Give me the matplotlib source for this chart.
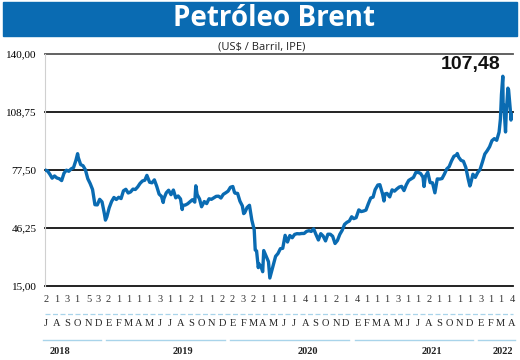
import numpy as np
import pandas as pd
import matplotlib
matplotlib.use('Agg')
import matplotlib.pyplot as plt
import matplotlib.dates as mdates
import matplotlib.transforms as mtransforms
from matplotlib.patches import Rectangle

# Brent, US$ per barrel (roughly weekly)
dates = [
    '2018-07-02', '2018-07-06', '2018-07-13', '2018-07-20', '2018-07-27', '2018-08-03', '2018-08-10',
    '2018-08-17', '2018-08-24', '2018-08-31', '2018-09-07', '2018-09-14', '2018-09-21', '2018-09-28',
    '2018-10-03', '2018-10-05', '2018-10-12', '2018-10-19', '2018-10-26', '2018-11-02', '2018-11-09',
    '2018-11-16', '2018-11-23', '2018-11-30', '2018-12-07', '2018-12-14', '2018-12-21', '2018-12-24',
    '2018-12-28',
    '2019-01-04', '2019-01-11', '2019-01-18', '2019-01-25', '2019-02-01', '2019-02-08', '2019-02-15',
    '2019-02-22', '2019-03-01', '2019-03-08', '2019-03-15', '2019-03-22', '2019-03-29', '2019-04-05',
    '2019-04-12', '2019-04-19', '2019-04-25', '2019-05-03', '2019-05-10', '2019-05-17', '2019-05-24',
    '2019-05-31', '2019-06-07', '2019-06-12', '2019-06-14', '2019-06-21', '2019-06-28', '2019-07-05',
    '2019-07-12', '2019-07-19', '2019-07-26', '2019-08-02', '2019-08-07', '2019-08-09', '2019-08-16',
    '2019-08-23', '2019-08-30', '2019-09-06', '2019-09-13', '2019-09-16', '2019-09-20', '2019-09-27',
    '2019-10-03', '2019-10-11', '2019-10-18', '2019-10-25', '2019-11-01', '2019-11-08', '2019-11-15',
    '2019-11-22', '2019-11-29', '2019-12-06', '2019-12-13', '2019-12-20', '2019-12-27',
    '2020-01-03', '2020-01-08', '2020-01-10', '2020-01-17', '2020-01-24', '2020-01-31', '2020-02-04',
    '2020-02-07', '2020-02-14', '2020-02-21', '2020-02-28', '2020-03-06', '2020-03-09', '2020-03-13',
    '2020-03-18', '2020-03-20', '2020-03-27', '2020-03-31', '2020-04-03', '2020-04-09', '2020-04-17',
    '2020-04-21', '2020-04-24', '2020-05-01', '2020-05-08', '2020-05-15', '2020-05-22', '2020-05-29',
    '2020-06-05', '2020-06-12', '2020-06-19', '2020-06-26', '2020-07-03', '2020-07-10', '2020-07-17',
    '2020-07-24', '2020-07-31', '2020-08-07', '2020-08-14', '2020-08-21', '2020-08-28', '2020-09-04',
    '2020-09-11', '2020-09-18', '2020-09-25', '2020-10-02', '2020-10-09', '2020-10-16', '2020-10-23',
    '2020-10-30', '2020-11-06', '2020-11-13', '2020-11-20', '2020-11-27', '2020-12-04', '2020-12-11',
    '2020-12-18', '2020-12-24', '2020-12-31',
    '2021-01-08', '2021-01-15', '2021-01-22', '2021-01-29', '2021-02-05', '2021-02-12', '2021-02-19',
    '2021-02-25', '2021-03-05', '2021-03-11', '2021-03-19', '2021-03-23', '2021-03-26', '2021-04-01',
    '2021-04-09', '2021-04-16', '2021-04-23', '2021-04-30', '2021-05-07', '2021-05-14', '2021-05-21',
    '2021-05-28', '2021-06-04', '2021-06-11', '2021-06-18', '2021-06-25', '2021-07-02', '2021-07-09',
    '2021-07-16', '2021-07-19', '2021-07-23', '2021-07-30', '2021-08-06', '2021-08-13', '2021-08-20',
    '2021-08-27', '2021-09-03', '2021-09-10', '2021-09-17', '2021-09-24', '2021-10-01', '2021-10-08',
    '2021-10-15', '2021-10-22', '2021-10-25', '2021-10-29', '2021-11-05', '2021-11-12', '2021-11-19',
    '2021-11-26', '2021-12-01', '2021-12-03', '2021-12-10', '2021-12-17', '2021-12-24', '2021-12-31',
    '2022-01-07', '2022-01-14', '2022-01-21', '2022-01-28', '2022-02-04', '2022-02-11', '2022-02-18',
    '2022-02-25', '2022-03-01', '2022-03-04', '2022-03-08', '2022-03-09', '2022-03-11', '2022-03-16',
    '2022-03-18', '2022-03-23', '2022-03-25', '2022-03-31', '2022-04-01', '2022-04-04',
]
prices = [
    77.3, 77.1, 75.3, 73.1, 74.3, 73.2, 72.8,
    71.8, 75.8, 77.4, 76.8, 78.1, 78.8, 82.7,
    86.3, 84.2, 80.4, 79.8, 77.6, 72.8, 70.2,
    67.0, 58.8, 58.7, 61.7, 60.3, 53.8, 50.5,
    52.2,
    57.1, 60.5, 62.7, 61.6, 62.8, 62.1, 66.3,
    67.1, 65.1, 65.7, 67.2, 67.0, 68.4, 70.3,
    71.6, 72.0, 74.6, 70.9, 70.6, 72.2, 68.7,
    64.5, 63.3, 60.0, 62.0, 65.2, 66.6, 64.2,
    66.7, 62.5, 63.5, 61.9, 56.2, 58.5, 58.6,
    59.3, 60.4, 61.5, 60.2, 69.0, 64.3, 61.9,
    57.7, 60.5, 59.4, 62.0, 61.7, 62.5, 63.3,
    63.4, 62.4, 64.4, 65.2, 66.1, 68.2,
    68.6, 65.4, 65.0, 64.9, 60.7, 58.2, 54.0,
    54.5, 57.3, 58.5, 50.5, 45.3, 34.4, 33.9,
    24.9, 27.0, 24.9, 22.7, 34.1, 31.5, 28.1,
    19.3, 21.4, 26.4, 31.0, 32.5, 35.1, 35.3,
    42.3, 38.7, 42.2, 41.0, 42.8, 43.2, 43.1,
    43.3, 43.3, 44.4, 44.8, 44.4, 45.8, 42.7,
    39.8, 43.2, 41.9, 39.3, 42.9, 42.9, 41.8,
    37.9, 39.5, 42.8, 45.0, 48.2, 49.3, 50.0,
    52.3, 51.3, 51.8,
    56.0, 55.1, 55.4, 55.9, 59.3, 62.4, 62.9,
    66.9, 69.4, 69.6, 64.5, 60.8, 64.6, 64.9,
    63.0, 66.8, 66.1, 67.3, 68.3, 68.7, 66.4,
    69.6, 71.9, 72.7, 73.5, 76.2, 76.2, 75.6,
    73.6, 68.6, 74.1, 76.3, 70.7, 70.6, 65.2,
    72.7, 72.6, 72.9, 75.3, 78.1, 79.3, 82.4,
    84.9, 85.5, 86.4, 84.4, 82.7, 82.2, 78.9,
    72.7, 68.9, 69.9, 75.2, 73.5, 76.1, 77.8,
    81.8, 86.1, 87.9, 90.0, 93.3, 94.4, 93.5,
    97.9, 105.0, 118.1, 128.0, 111.1, 112.7, 98.0,
    107.9, 121.6, 120.7, 107.9, 104.4, 107.48,
]

yticks = [15.00, 46.25, 77.50, 108.75, 140.00]
ytick_labels = ['15,00', '46,25', '77,50', '108,75', '140,00']

# first trading day of each month shown under the axis
tick_years = [2018] * 6 + [2019] * 12 + [2020] * 12 + [2021] * 12 + [2022] * 4
tick_months = list(range(7, 13)) + list(range(1, 13)) * 3 + list(range(1, 5))
tick_days = [2, 1, 3, 1, 5, 3,
             2, 1, 1, 1, 1, 3, 1, 1, 2, 1, 1, 2,
             2, 3, 2, 1, 1, 1, 1, 4, 1, 1, 2, 1,
             4, 1, 1, 1, 3, 1, 1, 2, 1, 1, 1, 1,
             3, 1, 1, 4]
month_letters = ['E', 'F', 'M', 'A', 'M', 'J', 'J', 'A', 'S', 'O', 'N', 'D']
year_labels = ['2018', '2019', '2020', '2021', '2022']
year_label_dates = ['2018-08-12', '2019-08-10', '2020-08-10', '2021-08-10', '2022-03-08']

blue = '#0a6bb2'
W, H = 520, 360

fig = plt.figure(figsize=(5.2, 3.6), dpi=100)
ax = fig.add_axes([45 / W, 1 - 286 / H, 468 / W, 232 / H])

x = pd.to_datetime(dates)
ax.plot(x, prices, color=blue, lw=2.4, solid_joinstyle='round', zorder=3)

for v in yticks:
    ax.axhline(v, color='#555555' if v == 140 else '#111111', lw=1.3, clip_on=False, zorder=2)

ax.set_ylim(15, 140)
ax.set_xlim(pd.Timestamp('2018-06-29'), pd.Timestamp('2022-04-07'))
ax.set_yticks(yticks)
ax.set_yticklabels(ytick_labels, family='Liberation Serif', fontsize=8)
ax.tick_params(axis='y', length=0, pad=6)
ax.set_xticks([])
for s in ['top', 'right', 'bottom']:
    ax.spines[s].set_visible(False)
ax.spines['left'].set_color('#d0d0d0')
ax.spines['left'].set_linewidth(0.8)

# bottom date labels: x in data, y in figure pixels
trans = mtransforms.blended_transform_factory(ax.transData, fig.transFigure)
tick_dates = [mdates.date2num(pd.Timestamp(y, m, d)) for y, m, d in zip(tick_years, tick_months, tick_days)]
for xd, m, d in zip(tick_dates, tick_months, tick_days):
    ax.text(xd, 1 - 300 / H, str(d), transform=trans, ha='center', va='center',
            family='Liberation Serif', fontsize=7.5, color='#333333')
    ax.text(xd, 1 - 324 / H, month_letters[m - 1], transform=trans, ha='center', va='center',
            family='Liberation Serif', fontsize=7.5, color='#222222')

fig.add_artist(plt.Line2D([45 / W, 513 / W], [1 - 314 / H] * 2, color='#a9d4ea', lw=0.9,
                          ls=(0, (4, 2))))

for yr in [2018, 2019, 2020, 2021, 2022]:
    xs = [xd for xd, ty in zip(tick_dates, tick_years) if ty == yr]
    ax.plot([xs[0] - 8, xs[-1] + 8], [1 - 340 / H] * 2, transform=trans, color='#a9d4ea',
            lw=1.0, clip_on=False)

for lab, d in zip(year_labels, year_label_dates):
    ax.text(mdates.date2num(pd.Timestamp(d)), 1 - 351 / H, lab, transform=trans, ha='center',
            va='center', family='Liberation Serif', fontweight='bold',
            fontsize=7.5, color='#222222')

# title banner
fig.patches.append(Rectangle((3 / W, 1 - 36 / H), 514 / W, 34 / H, transform=fig.transFigure,
                             color=blue, zorder=0))
fig.text(274 / W, 1 - 19 / H, 'Petróleo Brent', color='white', family='Open Sans', fontweight='bold',
         fontsize=20, ha='center', va='center')
fig.text(262 / W, 1 - 47 / H, '(US$ / Barril, IPE)', family='Open Sans', fontsize=8,
         ha='center', va='center', color='#222222')
fig.text(471 / W, 1 - 64 / H, '107,48', family='Liberation Sans', fontweight='bold',
         fontsize=14, ha='center', va='center', color='#111111')

plt.savefig('out.png', dpi=100)
